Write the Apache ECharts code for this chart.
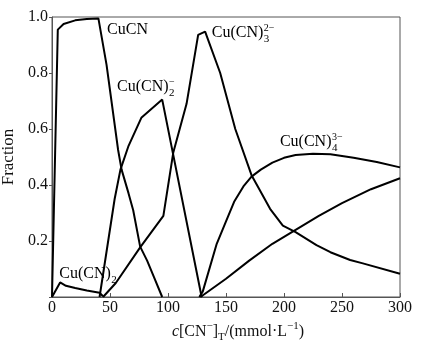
<!DOCTYPE html>
<html><head><meta charset="utf-8">
<script src="https://cdn.jsdelivr.net/npm/echarts@6/dist/echarts.min.js"></script>
<style>html,body{margin:0;padding:0;background:#fff}#c{width:423px;height:349px}</style>
</head><body><div id="c"></div>
<script>
// ---- data ----
const xTicks = [0, 50, 100, 150, 200, 250, 300];
const yTicks = [0.2, 0.4, 0.6, 0.8, 1.0];
const cucn = [[0,0],[5,0.955],[10,0.975],[20,0.988],[30,0.993],[40,0.995],[47,0.83],[57,0.525],[60,0.455],[66,0.37],[70,0.31],[76,0.18],[82,0.13],[88,0.07],[95,0]];
const cucn2minus = [[41,0],[54,0.35],[59,0.455],[66,0.54],[77,0.64],[95,0.705],[129,0]];
const cucn3 = [[44,0],[55,0.05],[76,0.177],[96,0.29],[104.5,0.515],[116,0.69],[126,0.936],[132,0.948],[145,0.8],[158,0.6],[172,0.435],[178,0.39],[188,0.315],[199,0.255],[210,0.232],[228,0.185],[240,0.16],[257,0.132],[268,0.12],[300,0.083]];
const cucn4 = [[127,0],[130,0.02],[142,0.19],[150,0.27],[157,0.34],[165,0.395],[172,0.43],[180,0.455],[190,0.48],[200,0.497],[210,0.507],[225,0.512],[240,0.51],[260,0.497],[280,0.482],[300,0.463]];
const cucn2low = [[0,0],[7,0.052],[12,0.04],[20,0.032],[30,0.023],[41,0.015],[44,0.003]];
const cucnHigh = [[128,0],[150,0.065],[170,0.13],[190,0.19],[210,0.24],[230,0.29],[250,0.335],[275,0.385],[300,0.424]];
const speciesLabels = [
  {x:47.5, y:0.953, main:'CuCN'},
  {x:56, y:0.75, main:'Cu(CN)', sub:'2', sup:'\u2212'},
  {x:137.7, y:0.943, main:'Cu(CN)', sub:'3', sup:'2\u2212'},
  {x:196.5, y:0.554, main:'Cu(CN)', sub:'4', sup:'3\u2212'},
  {x:6.3, y:0.082, main:'Cu(CN)', sub:'2'}
];
// ---- chart ----
const FONT = 'Liberation Serif';
const line = (name, data) => ({name, type:'line', data, symbol:'none', smooth:false,
  lineStyle:{color:'#000', width:2}, itemStyle:{color:'#000'}, z:3, animation:false});
const chart = echarts.init(document.getElementById('c'));
chart.setOption({
  animation:false,
  textStyle:{fontFamily:FONT},
  grid:{left:52, right:23, top:17, bottom:52, containLabel:false, outerBoundsMode:'none',
    show:true, borderColor:'#555', borderWidth:1},
  xAxis:{type:'value', min:0, max:300, interval:50,
    axisLine:{lineStyle:{color:'#555', width:1}},
    axisTick:{inside:true, length:4, lineStyle:{color:'#555'}},
    splitLine:{show:false},
    axisLabel:{color:'#111', fontFamily:FONT, fontSize:16, margin:3},
    name:'{i|c}{n|[CN}{sp|\u2212}{n|]}{sb|T}{n|/(mmol\u00b7L}{sp|\u22121}{n|)}',
    nameLocation:'middle', nameGap:22,
    nameTextStyle:{fontFamily:FONT, padding:[0,0,0,24], rich:{
      i:{fontFamily:FONT, fontSize:16, fontStyle:'italic', color:'#111', lineHeight:22},
      n:{fontFamily:FONT, fontSize:16, color:'#111', lineHeight:22},
      sp:{fontFamily:FONT, fontSize:11, color:'#111', verticalAlign:'top', lineHeight:11},
      sb:{fontFamily:FONT, fontSize:11, color:'#111', verticalAlign:'bottom', lineHeight:11}
    }}
  },
  yAxis:{type:'value', min:0, max:1, interval:0.2,
    axisLine:{show:true, lineStyle:{color:'#555', width:1}},
    axisTick:{show:true, inside:false, length:3, lineStyle:{color:'#555'}},
    splitLine:{show:false},
    axisLabel:{color:'#111', fontFamily:FONT, fontSize:16, margin:4,
      formatter:v => (yTicks.some(t => Math.abs(t - v) < 1e-9) ? v.toFixed(1) : '')},
    name:'Fraction', nameLocation:'middle', nameGap:33, nameRotate:90,
    nameTextStyle:{fontFamily:FONT, fontSize:17, color:'#111'}
  },
  series:[
    line('CuCN', cucn), line('Cu(CN)2-', cucn2minus), line('Cu(CN)3 2-', cucn3),
    line('Cu(CN)4 3-', cucn4), line('Cu(CN)2', cucn2low), line('high', cucnHigh)
  ]
});
// species labels with stacked sub/superscripts, anchored in data coordinates
(function(){
  const ctx = document.createElement('canvas').getContext('2d');
  ctx.font = '16px "' + FONT + '"';
  const els = [];
  speciesLabels.forEach(l => {
    const p = chart.convertToPixel({gridIndex:0}, [l.x, l.y]);
    const w = ctx.measureText(l.main).width;
    els.push({type:'text', x:p[0], y:p[1], z:10, style:{text:l.main, font:'16px "' + FONT + '"', fill:'#000',
      textAlign:'left', textVerticalAlign:'middle', align:'left', verticalAlign:'middle'}});
    if (l.sub) els.push({type:'text', x:p[0] + w + 0.5, y:p[1] + 6, z:10, style:{text:l.sub, font:'11px "' + FONT + '"', fill:'#000',
      textAlign:'left', textVerticalAlign:'middle', align:'left', verticalAlign:'middle'}});
    if (l.sup) els.push({type:'text', x:p[0] + w + 0.5, y:p[1] - 5, z:10, style:{text:l.sup, font:'10px "' + FONT + '"', fill:'#000',
      textAlign:'left', textVerticalAlign:'middle', align:'left', verticalAlign:'middle'}});
  });
  chart.setOption({graphic:{elements:els}});
})();
</script></body></html>
